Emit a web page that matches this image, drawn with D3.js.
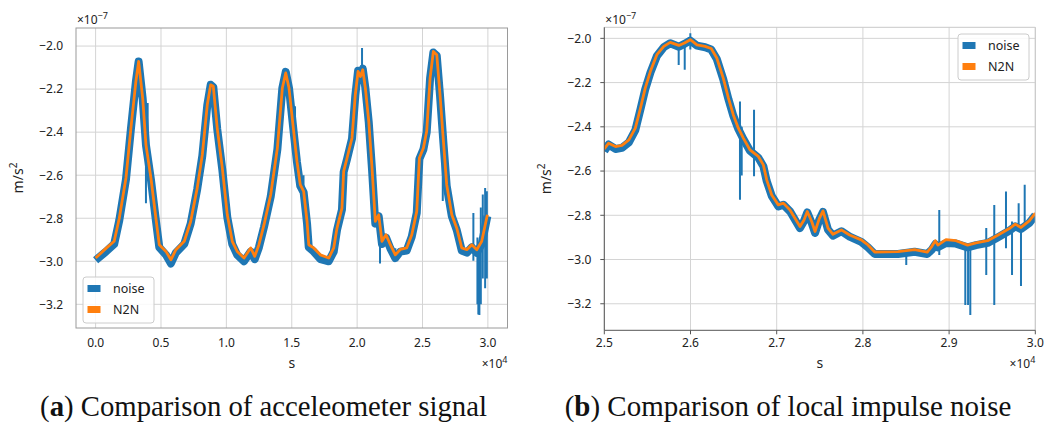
<!DOCTYPE html>
<html><head><meta charset="utf-8">
<script src="https://cdn.jsdelivr.net/npm/d3@7"></script>
<style>
body{margin:0;background:#fff;}
svg{display:block;}
text{font-family:"Noto Sans","Open Sans",sans-serif;fill:#222;}
</style>
</head><body>
<svg id="chart" width="1048" height="427"></svg>
<script>
// ---------- DATA (time in s, acceleration in units of 1e-7 m/s^2) ----------
const leftT = [0,790,1420,1810,2320,2700,3080,3290,3600,3850,4230,4610,4870,5380,5760,6140,6780,7270,7770,8160,8540,8800,9000,9300,9690,10070,10450,10830,11350,11860,12170,12490,12880,13390,13900,14280,14540,14790,15120,15400,15650,15910,16170,16300,16680,17190,17830,18210,18460,18840,18970,19230,19610,19860,20070,20250,20430,20630,20890,21140,21390,21650,21900,22210,22540,22920,23300,23790,24180,24560,24760,25070,25320,25580,25830,26090,26340,26600,26850,27240,27620,28000,28390,28770,29150,29530,29960];
const leftN2N = [-2.985,-2.94,-2.907,-2.80,-2.613,-2.381,-2.164,-2.071,-2.242,-2.459,-2.613,-2.80,-2.923,-2.954,-2.993,-2.946,-2.907,-2.815,-2.66,-2.505,-2.273,-2.18,-2.187,-2.381,-2.567,-2.784,-2.907,-2.954,-2.985,-2.938,-2.977,-2.923,-2.83,-2.691,-2.474,-2.195,-2.125,-2.195,-2.381,-2.536,-2.644,-2.675,-2.815,-2.923,-2.938,-2.97,-2.985,-2.938,-2.846,-2.753,-2.582,-2.52,-2.427,-2.226,-2.118,-2.141,-2.11,-2.195,-2.35,-2.567,-2.815,-2.784,-2.907,-2.877,-2.923,-2.97,-2.945,-2.938,-2.877,-2.768,-2.52,-2.474,-2.396,-2.149,-2.025,-2.04,-2.226,-2.443,-2.644,-2.784,-2.846,-2.938,-2.946,-2.923,-2.946,-2.907,-2.784];
const leftNoise = [-2.995,-2.955,-2.92,-2.81,-2.62,-2.385,-2.165,-2.072,-2.245,-2.46,-2.62,-2.81,-2.935,-2.97,-3.01,-2.96,-2.92,-2.825,-2.665,-2.51,-2.275,-2.18,-2.19,-2.385,-2.575,-2.795,-2.92,-2.97,-3.0,-2.955,-2.99,-2.935,-2.84,-2.70,-2.48,-2.195,-2.12,-2.195,-2.385,-2.54,-2.65,-2.68,-2.825,-2.935,-2.955,-2.99,-3.0,-2.955,-2.855,-2.76,-2.585,-2.525,-2.43,-2.23,-2.115,-2.14,-2.105,-2.195,-2.355,-2.575,-2.825,-2.79,-2.92,-2.89,-2.94,-2.985,-2.955,-2.95,-2.885,-2.775,-2.525,-2.48,-2.40,-2.15,-2.03,-2.045,-2.23,-2.45,-2.65,-2.79,-2.855,-2.95,-2.96,-2.935,-2.96,-2.92,-2.79];
const leftSpikeT  = [3850,3980,15250,15900,20375,21750,22920,26550,26720,28890,29200,29270,29350,29460,29610,29790,29920];
const leftSpikeLo = [-2.73,-2.43,-2.53,-2.72,-2.16,-3.01,-3.0,-2.72,-2.60,-2.998,-3.2,-3.247,-3.25,-3.2,-3.08,-3.125,-3.08];
const leftSpikeHi = [-2.54,-2.265,-2.28,-2.60,-2.009,-2.85,-2.94,-2.27,-2.38,-2.776,-2.89,-2.95,-2.95,-2.75,-2.69,-2.66,-2.675];

const rightT = [25000,25050,25130,25205,25285,25360,25420,25475,25535,25610,25690,25765,25865,25930,25998,26075,26170,26240,26305,26380,26440,26497,26555,26613,26690,26787,26845,26884,26942,27019,27077,27154,27212,27270,27317,27355,27406,27445,27494,27537,27595,27653,27750,27846,27981,28059,28137,28407,28600,28747,28800,28840,28870,28964,29080,29215,29312,29447,29563,29698,29768,29834,29930,30000];
const rightN2N = [-2.50,-2.474,-2.489,-2.484,-2.459,-2.406,-2.315,-2.225,-2.149,-2.074,-2.036,-2.018,-2.032,-2.021,-2.006,-2.029,-2.036,-2.046,-2.089,-2.18,-2.27,-2.346,-2.406,-2.451,-2.504,-2.534,-2.572,-2.64,-2.708,-2.753,-2.745,-2.776,-2.813,-2.851,-2.821,-2.783,-2.828,-2.873,-2.815,-2.78,-2.858,-2.886,-2.866,-2.889,-2.911,-2.934,-2.966,-2.964,-2.955,-2.966,-2.94,-2.915,-2.935,-2.91,-2.915,-2.935,-2.925,-2.915,-2.89,-2.86,-2.84,-2.855,-2.825,-2.79];
const rightNoise = [-2.51,-2.48,-2.50,-2.495,-2.47,-2.415,-2.32,-2.23,-2.155,-2.08,-2.04,-2.022,-2.038,-2.025,-2.01,-2.033,-2.04,-2.05,-2.093,-2.185,-2.275,-2.35,-2.41,-2.455,-2.508,-2.54,-2.578,-2.645,-2.712,-2.76,-2.752,-2.782,-2.82,-2.858,-2.826,-2.787,-2.835,-2.88,-2.82,-2.785,-2.865,-2.892,-2.872,-2.896,-2.92,-2.945,-2.975,-2.975,-2.965,-2.975,-2.955,-2.93,-2.945,-2.925,-2.928,-2.945,-2.935,-2.925,-2.90,-2.87,-2.85,-2.862,-2.835,-2.80];
const rightSpikeT  = [25863,25933,25998,26574,26594,26737,28503,28886,29188,29220,29246,29431,29524,29660,29730,29807,29834,29877];
const rightSpikeLo = [-2.12,-2.142,-2.05,-2.73,-2.62,-2.624,-3.025,-2.979,-3.206,-3.206,-3.251,-3.07,-3.206,-2.949,-3.07,-2.858,-3.12,-2.858];
const rightSpikeHi = [-2.04,-2.03,-1.977,-2.285,-2.40,-2.323,-2.96,-2.776,-2.934,-2.94,-2.949,-2.858,-2.753,-2.692,-2.828,-2.745,-2.858,-2.662];

const leftXTicks = [0,5000,10000,15000,20000,25000,30000];
const rightXTicks = [25000,26000,27000,28000,29000,30000];
const yTicks = [-2.0,-2.2,-2.4,-2.6,-2.8,-3.0,-3.2];
const seriesNames = ["noise","N2N"];
const captions = [["a"," Comparison of acceleometer signal"],["b"," Comparison of local impulse noise"]];

// ---------- DRAWING ----------
const BLUE = "#1f77b4", ORANGE = "#ff7f0e";
const svg = d3.select("#chart");
svg.append("rect").attr("width",1048).attr("height",427).attr("fill","#fff");
const fmtX = d => (d/1e4).toFixed(1);
const fmtY = d => d3.format(".1f")(d).replace("-","\u2212");

function panel(c){
  const g = svg.append("g");
  const x = d3.scaleLinear().domain(c.xDomain).range([c.x0,c.x1]);
  const y = d3.scaleLinear().domain(c.yDomain).range([c.y1,c.y0]);
  const clipId = "clip"+c.id;
  g.append("clipPath").attr("id",clipId).append("rect")
    .attr("x",c.x0).attr("y",c.y0).attr("width",c.x1-c.x0).attr("height",c.y1-c.y0);
  // grid
  g.append("g").selectAll("line").data(c.xTicks).join("line")
    .attr("x1",d=>x(d)).attr("x2",d=>x(d)).attr("y1",c.y0).attr("y2",c.y1)
    .attr("stroke","#d4d4d4").attr("stroke-width",1);
  g.append("g").selectAll("line").data(yTicks).join("line")
    .attr("y1",d=>y(d)).attr("y2",d=>y(d)).attr("x1",c.x0).attr("x2",c.x1)
    .attr("stroke","#d4d4d4").attr("stroke-width",1);
  // data
  const plot = g.append("g").attr("clip-path",`url(#${clipId})`);
  const line = d3.line().x(d=>x(d[0])).y(d=>y(d[1]));
  plot.append("g").selectAll("line").data(c.spT.map((t,i)=>[t,c.spLo[i],c.spHi[i]])).join("line")
    .attr("x1",d=>x(d[0])).attr("x2",d=>x(d[0])).attr("y1",d=>y(d[1])).attr("y2",d=>y(d[2]))
    .attr("stroke",BLUE).attr("stroke-width",2);
  plot.append("path").datum(c.t.map((t,i)=>[t,c.noise[i]])).attr("d",line)
    .attr("fill","none").attr("stroke",BLUE).attr("stroke-width",c.bandW).attr("stroke-linejoin","round");
  plot.append("path").datum(c.t.map((t,i)=>[t,c.n2n[i]])).attr("d",line)
    .attr("fill","none").attr("stroke",ORANGE).attr("stroke-width",2.8).attr("stroke-linejoin","round");
  // spines
  if(c.darkSpines){
    g.append("line").attr("x1",c.x0).attr("x2",c.x1).attr("y1",c.y0).attr("y2",c.y0).attr("stroke","#c8c8c8");
    g.append("line").attr("x1",c.x1).attr("x2",c.x1).attr("y1",c.y0).attr("y2",c.y1).attr("stroke","#c8c8c8");
    g.append("line").attr("x1",c.x0).attr("x2",c.x1).attr("y1",c.y1).attr("y2",c.y1).attr("stroke","#555");
    g.append("line").attr("x1",c.x0).attr("x2",c.x0).attr("y1",c.y0).attr("y2",c.y1).attr("stroke","#555");
    g.append("g").selectAll("line").data(c.xTicks).join("line")
      .attr("x1",d=>x(d)).attr("x2",d=>x(d)).attr("y1",c.y1).attr("y2",c.y1+4).attr("stroke","#555");
    g.append("g").selectAll("line").data(yTicks).join("line")
      .attr("y1",d=>y(d)).attr("y2",d=>y(d)).attr("x1",c.x0-4).attr("x2",c.x0).attr("stroke","#555");
  } else {
    g.append("rect").attr("x",c.x0).attr("y",c.y0).attr("width",c.x1-c.x0).attr("height",c.y1-c.y0)
      .attr("fill","none").attr("stroke","#9a9a9a").attr("stroke-width",1);
  }
  // tick labels
  g.append("g").selectAll("text").data(c.xTicks).join("text")
    .attr("x",d=>x(d)).attr("y",347).attr("text-anchor","middle").attr("font-size",12).text(fmtX);
  g.append("g").selectAll("text").data(yTicks).join("text")
    .attr("x",c.x0-13).attr("y",d=>y(d)).attr("dy","0.36em").attr("text-anchor","end").attr("font-size",12).text(fmtY);
  // axis labels
  g.append("text").attr("x",(c.x0+c.x1)/2).attr("y",368).attr("text-anchor","middle").attr("font-size",14).text("s");
  const yl = g.append("text").attr("transform",`translate(${c.x0-53},${(c.y0+c.y1)/2}) rotate(-90)`)
    .attr("text-anchor","middle").attr("font-size",14);
  yl.append("tspan").text("m/s");
  yl.append("tspan").attr("dy",-6).attr("font-size",10).text("2");
  // offset texts
  const xo = g.append("text").attr("x",c.x1).attr("y",368).attr("text-anchor","end").attr("font-size",12);
  xo.append("tspan").text("\u00d710");
  xo.append("tspan").attr("dy",-5).attr("font-size",9).text("4");
  const yo = g.append("text").attr("x",c.x0+1).attr("y",24).attr("font-size",12);
  yo.append("tspan").text("\u00d710");
  yo.append("tspan").attr("dy",-5).attr("font-size",9).text("\u22127");
  // legend
  const lg = g.append("g").attr("transform",`translate(${c.legX},${c.legY})`);
  lg.append("rect").attr("width",71).attr("height",46).attr("rx",3)
    .attr("fill","#fff").attr("fill-opacity",0.85).attr("stroke","#cccccc");
  [BLUE,ORANGE].forEach((col,i)=>{
    lg.append("rect").attr("x",4.5).attr("y",8+i*21).attr("width",13).attr("height",7).attr("fill",col);
    lg.append("text").attr("x",30).attr("y",16+i*21).attr("font-size",12.5).text(seriesNames[i]);
  });
  // caption
  const cap = svg.append("text").attr("x",c.capX).attr("y",416).attr("text-anchor","middle")
    .style("font-family","'Liberation Serif','DejaVu Serif',serif").attr("font-size",28).style("fill","#111");
  cap.append("tspan").text("(");
  cap.append("tspan").attr("font-weight","bold").text(c.cap[0]);
  cap.append("tspan").text(")"+c.cap[1]);
  const w = cap.node().getComputedTextLength();
  cap.attr("font-size",28*c.capW/w);
}

panel({id:"L",x0:76,x1:507.5,y0:28,y1:328,xDomain:[-1500,31500],yDomain:[-3.310,-1.916],
  xTicks:leftXTicks,t:leftT,n2n:leftN2N,noise:leftNoise,spT:leftSpikeT,spLo:leftSpikeLo,spHi:leftSpikeHi,
  bandW:8,darkSpines:false,legX:83,legY:277,capX:263.5,capW:447,cap:captions[0]});
panel({id:"R",x0:604.3,x1:1035.3,y0:27.3,y1:330.3,xDomain:[25000,30000],yDomain:[-3.320,-1.950],
  xTicks:rightXTicks,t:rightT,n2n:rightN2N,noise:rightNoise,spT:rightSpikeT,spLo:rightSpikeLo,spHi:rightSpikeHi,
  bandW:8,darkSpines:true,legX:958,legY:34,capX:788,capW:446.6,cap:captions[1]});
</script>
</body></html>
